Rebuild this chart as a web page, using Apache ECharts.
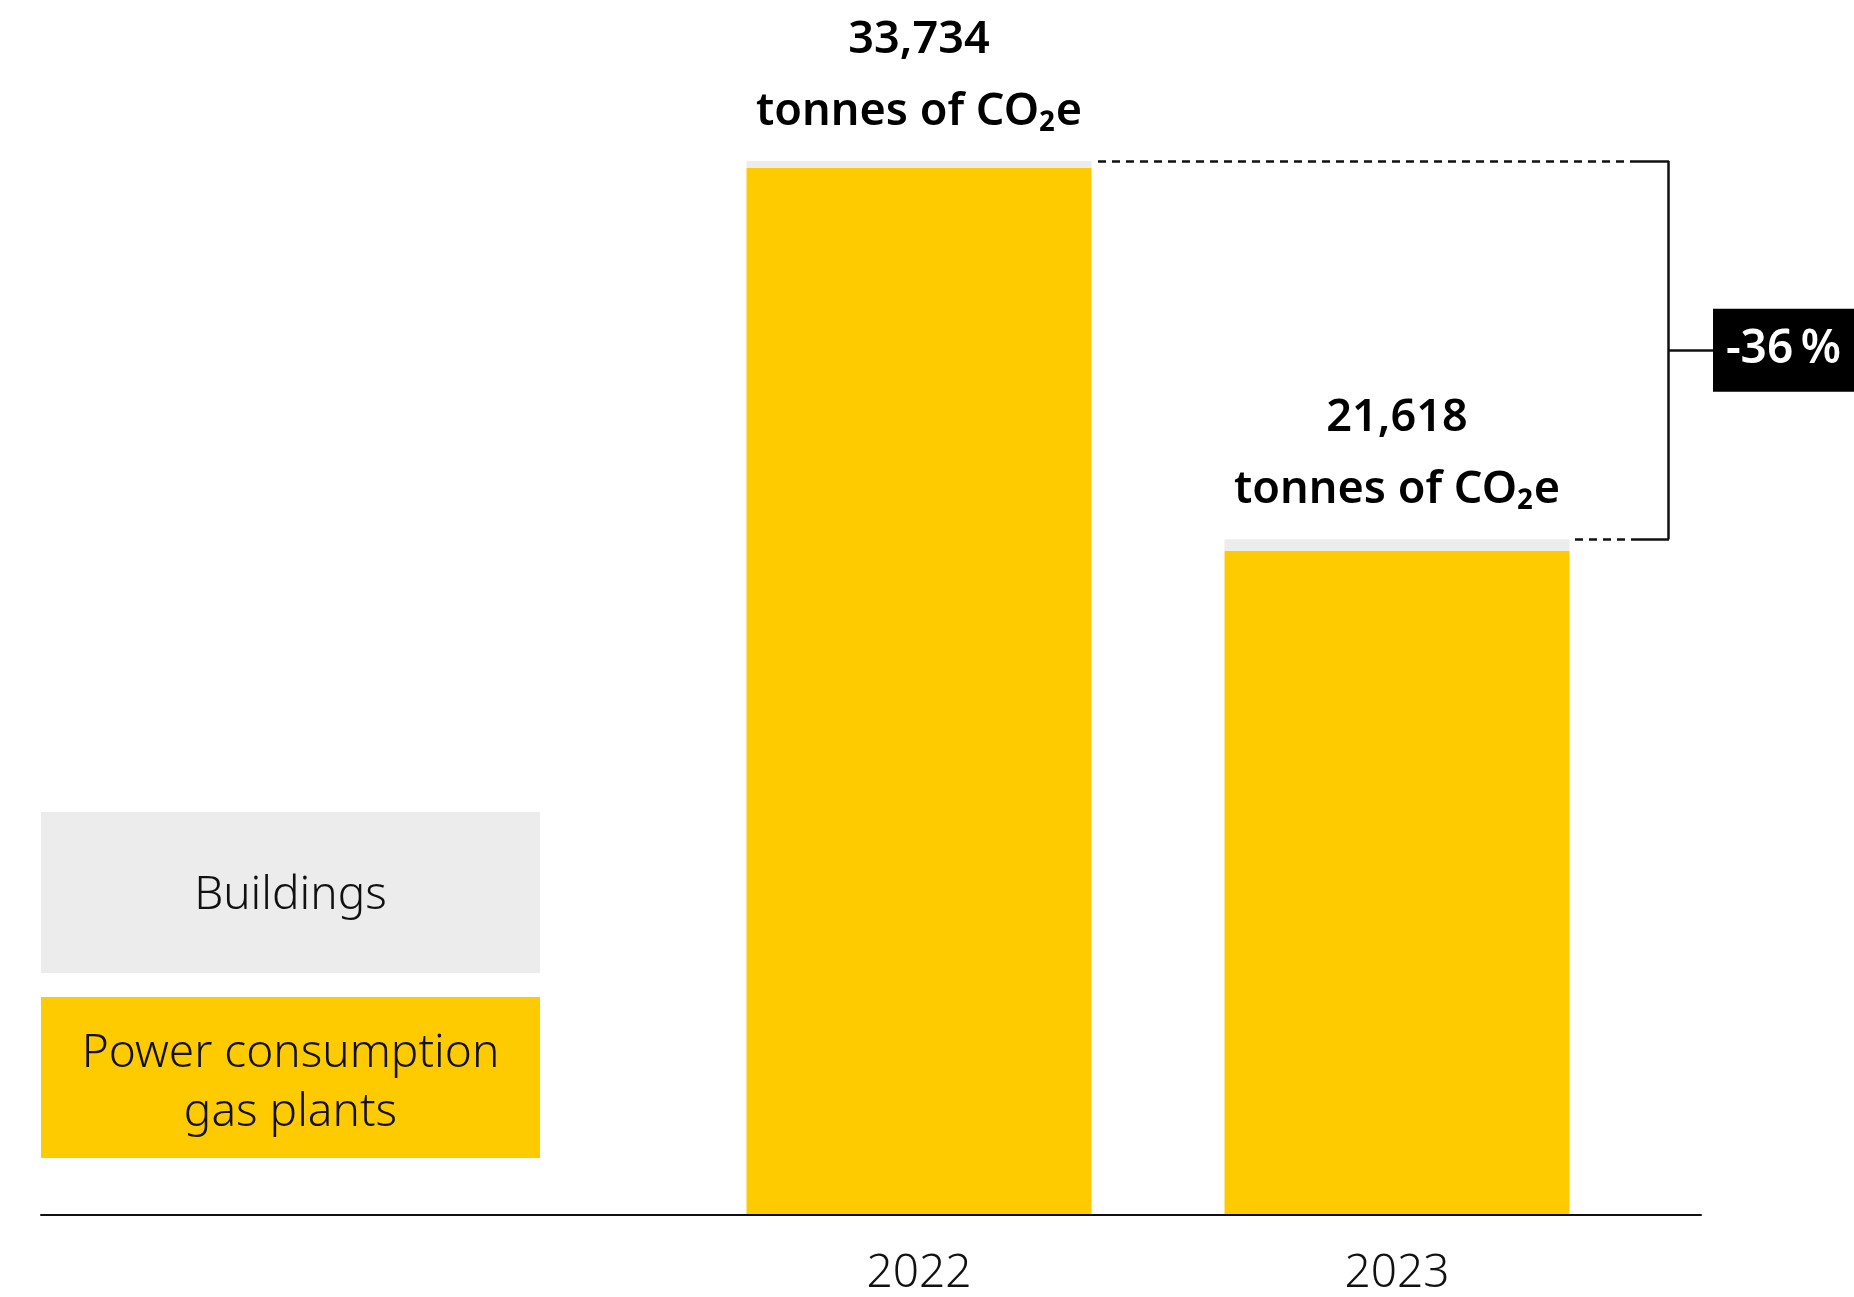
<!DOCTYPE html>
<html>
<head>
<meta charset="utf-8">
<style>
  html, body { margin: 0; padding: 0; background: #ffffff; }
  #chart { width: 1854px; height: 1297px; }
</style>
<script src="https://cdn.jsdelivr.net/npm/echarts@6/dist/echarts.min.js"></script>
</head>
<body>
<div id="chart"></div>
<script>
// ---- data ----
const categories = ['2022', '2023'];
const seriesNames = ['Power consumption\ngas plants', 'Buildings'];
const powerGasPlants = [33510, 21250];
const buildings = [224, 368];
const unitLabel = 'tonnes of CO\u2082e';

// ---- derived ----
const totals = categories.map((c, i) => powerGasPlants[i] + buildings[i]);
const changePct = Math.round((totals[1] - totals[0]) / totals[0] * 100);
const changeLabel = (changePct > 0 ? '+' : '') + changePct + '\u2009%';
const midValue = (totals[0] + totals[1]) / 2;

const YELLOW = '#fecb00';
const GRAY = '#ececec';
const FONT = '"Noto Sans", "Open Sans", sans-serif';

const chart = echarts.init(document.getElementById('chart'), null, { renderer: 'canvas' });

const solid = { type: 'solid', color: '#111', width: 2.5 };
const dashed = { type: [8, 6], color: '#111', width: 2.5 };

chart.setOption({
  animation: false,
  backgroundColor: '#ffffff',
  grid: [
    { left: 680, right: 218, top: 121.6, bottom: 83 },
    { left: 41, right: 153, top: 100, bottom: 82 }
  ],
  xAxis: [
    {
      gridIndex: 0,
      type: 'category',
      data: categories,
      axisLine: { show: false },
      axisTick: { show: false },
      axisLabel: {
        fontFamily: FONT, fontSize: 46, fontWeight: 300, color: '#111', margin: 37
      }
    },
    {
      gridIndex: 1,
      type: 'value', min: 0, max: 1,
      axisLine: { show: true, lineStyle: { color: '#111', width: 2 } },
      axisTick: { show: false },
      axisLabel: { show: false },
      splitLine: { show: false }
    }
  ],
  yAxis: [
    { gridIndex: 0, type: 'value', min: 0, max: 35000, show: false, splitLine: { show: false } },
    { gridIndex: 1, type: 'value', min: 0, max: 1, show: false, splitLine: { show: false } }
  ],
  series: [
    {
      name: seriesNames[0],
      type: 'bar',
      stack: 'total',
      barWidth: 345,
      data: powerGasPlants,
      itemStyle: { color: YELLOW },
      silent: true
    },
    {
      name: seriesNames[1],
      type: 'bar',
      stack: 'total',
      barWidth: 345,
      data: buildings,
      itemStyle: { color: GRAY },
      silent: true,
      label: {
        show: true,
        position: 'top',
        distance: 13,
        fontFamily: FONT,
        fontSize: 45,
        fontWeight: 600,
        color: '#000',
        lineHeight: 72,
        formatter: (p) => totals[p.dataIndex].toLocaleString('en-US') + '\n' + unitLabel
      },
      markLine: {
        silent: true,
        symbol: ['none', 'none'],
        label: { show: false },
        emphasis: { disabled: true },
        data: [
          [ { coord: [categories[0], totals[0]], x: 1098, lineStyle: dashed },
            { coord: [categories[0], totals[0]], x: 1638 } ],
          [ { coord: [categories[0], totals[0]], x: 1638, lineStyle: solid },
            { coord: [categories[0], totals[0]], x: 1669 } ],
          [ { coord: [categories[1], totals[1]], x: 1575, lineStyle: dashed },
            { coord: [categories[1], totals[1]], x: 1638 } ],
          [ { coord: [categories[1], totals[1]], x: 1638, lineStyle: solid },
            { coord: [categories[1], totals[1]], x: 1669 } ],
          [ { coord: [categories[0], totals[0]], x: 1668, lineStyle: solid },
            { coord: [categories[1], totals[1]], x: 1668 } ],
          [ { coord: [categories[1], midValue], x: 1668, lineStyle: solid },
            { coord: [categories[1], midValue], x: 1714 } ]
        ]
      },
      markPoint: {
        silent: true,
        symbol: 'rect',
        symbolSize: [141, 83],
        itemStyle: { color: '#000' },
        label: {
          show: true,
          position: 'inside',
          fontFamily: FONT,
          fontSize: 46,
          fontWeight: 600,
          color: '#fff',
          formatter: () => changeLabel
        },
        data: [ { coord: [categories[1], midValue], x: 1783.5 } ]
      }
    }
  ],
  graphic: [
    { type: 'rect', shape: { x: 41, y: 812, width: 499, height: 161 }, style: { fill: GRAY }, silent: true },
    { type: 'text', x: 290.5, y: 895.5, silent: true,
      style: { text: seriesNames[1], fill: '#111', fontFamily: FONT, fontSize: 46, fontWeight: 300,
               align: 'center', verticalAlign: 'middle' } },
    { type: 'rect', shape: { x: 41, y: 997, width: 499, height: 161 }, style: { fill: YELLOW }, silent: true },
    { type: 'text', x: 290.5, y: 1083.5, silent: true,
      style: { text: seriesNames[0], fill: '#111', fontFamily: FONT, fontSize: 46, fontWeight: 300,
               lineHeight: 59, align: 'center', verticalAlign: 'middle' } }
  ]
});
</script>
</body>
</html>
